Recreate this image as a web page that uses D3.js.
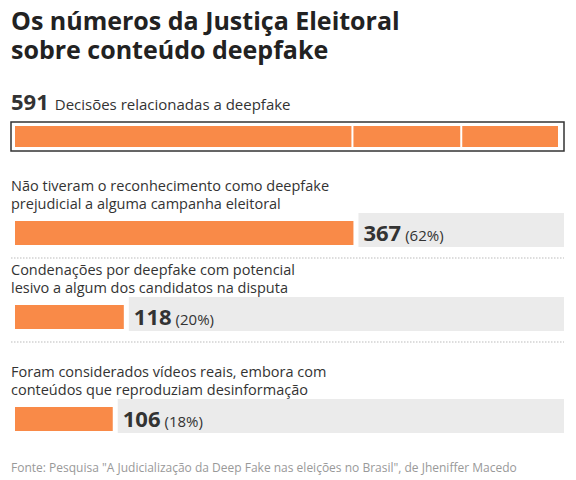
<!DOCTYPE html>
<html>
<head>
  <script src="https://cdn.jsdelivr.net/npm/d3@7"></script>
  <style>
    body { margin: 0; background: #fff; font-family: "Open Sans", "Noto Sans", sans-serif; }
  </style>
</head>
<body>
<script>
  var total = 591;
  var labels = [
    ["Não tiveram o reconhecimento como deepfake", "prejudicial a alguma campanha eleitoral"],
    ["Condenações por deepfake com potencial", "lesivo a algum dos candidatos na disputa"],
    ["Foram considerados vídeos reais, embora com", "conteúdos que reproduziam desinformação"]
  ];
  var values = [367, 118, 106];
  var pcts = ["62%", "20%", "18%"];

  var W = 576, H = 480, orange = "#f98a48";
  var svg = d3.select("body").append("svg").attr("width", W).attr("height", H);

  var x = d3.scaleLinear().domain([0, total]).range([15, 560]);

  // title
  svg.append("text").attr("x", 11).attr("y", 30).attr("font-size", 25).attr("font-weight", 700)
    .attr("fill", "#222").text("Os números da Justiça Eleitoral");
  svg.append("text").attr("x", 11).attr("y", 59).attr("font-size", 25).attr("font-weight", 700)
    .attr("fill", "#222").text("sobre conteúdo deepfake");

  // total line
  var t = svg.append("text").attr("x", 11).attr("y", 110).attr("fill", "#333");
  t.append("tspan").attr("font-size", 22).attr("font-weight", 700).text(total);
  t.append("tspan").attr("font-size", 15).attr("dx", 6).text("Decisões relacionadas a deepfake");

  svg.append("rect").attr("x", 11).attr("y", 122).attr("width", 553).attr("height", 29)
    .attr("fill", "none").attr("stroke", "#333").attr("stroke-width", 1.5);
  var cum = 0;
  values.forEach(function(v) {
    svg.append("rect").attr("x", x(cum)).attr("y", 126)
      .attr("width", x(cum + v) - x(cum) - 2).attr("height", 21).attr("fill", orange);
    cum += v;
  });

  // rows
  var rowTop = [191, 275, 377];
  values.forEach(function(v, i) {
    var y0 = rowTop[i];
    labels[i].forEach(function(l, j) {
      svg.append("text").attr("x", 11).attr("y", y0 + j * 18).attr("font-size", 14.5)
        .attr("fill", "#333").text(l);
    });
    var by = y0 + 30;
    svg.append("rect").attr("x", x(v) + 5).attr("y", by - 8).attr("width", 564 - x(v) - 5)
      .attr("height", 34).attr("fill", "#ebebeb");
    svg.append("rect").attr("x", x(0)).attr("y", by).attr("width", x(v) - x(0))
      .attr("height", 24).attr("fill", orange);
    var vt = svg.append("text").attr("x", x(v) + 10).attr("y", by + 20).attr("fill", "#333");
    vt.append("tspan").attr("font-size", 22).attr("font-weight", 700).text(v);
    vt.append("tspan").attr("font-size", 15).attr("dx", 4).text("(" + pcts[i] + ")");
    if (i < values.length - 1) {
      svg.append("line").attr("x1", 11).attr("x2", 564).attr("y1", by + 37).attr("y2", by + 37)
        .attr("stroke", "#bbb").attr("stroke-dasharray", "1.5,1.5");
    }
  });

  svg.append("text").attr("x", 11).attr("y", 472).attr("font-size", 12).attr("fill", "#999")
    .text("Fonte: Pesquisa \"A Judicialização da Deep Fake nas eleições no Brasil\", de Jheniffer Macedo");
</script>
</body>
</html>
